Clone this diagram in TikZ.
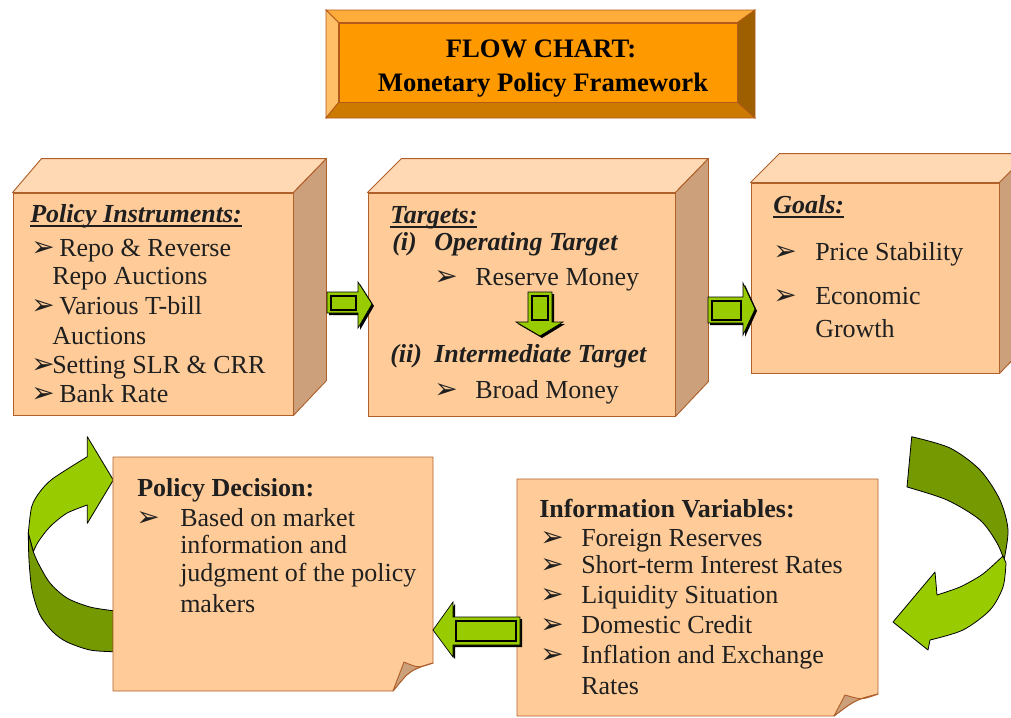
\documentclass[tikz,border=0pt]{standalone}
\usepackage{fontspec}
\setmainfont{Liberation Serif}
\newfontfamily\bulfont{DejaVu Sans}
\usetikzlibrary{fit,calc}
\definecolor{frontc}{HTML}{FFCC99}
\definecolor{topc}{HTML}{FFD9B3}
\definecolor{sidec}{HTML}{CCA07A}
\definecolor{edgec}{HTML}{B0602A}
\definecolor{agreen}{HTML}{99CC00}
\definecolor{dgreen}{HTML}{759900}
\definecolor{textc}{HTML}{1F1F1F}
\definecolor{tface}{HTML}{FF9900}
\definecolor{ttop}{HTML}{FFAD3A}
\definecolor{tleft}{HTML}{FFBF66}
\definecolor{tright}{HTML}{9E5F00}
\definecolor{tbottom}{HTML}{CC7A00}
\definecolor{tedge}{HTML}{B3591A}
\newcommand\thickul[1]{\setbox0=\hbox{#1}\leavevmode\rlap{\raisebox{-3.6pt}{\rule{\wd0}{1.7pt}}}\box0}
\newcommand\bu{{\bulfont\fontsize{21}{23}\selectfont ➢}}
\begin{document}
\begin{tikzpicture}[x=0.75pt,y=-0.75pt,
  every node/.style={inner sep=0pt},
  front/.style={draw=edgec, line width=0.7pt, fill=frontc, inner sep=0pt},
  facet/.style={draw=edgec, line width=0.7pt, line join=round},
  txt/.style={anchor=base west, font=\fontsize{19.5}{23}\selectfont, text=textc},
  bul/.style={anchor=base west, text=textc},
  ttl/.style={anchor=base, font=\bfseries\fontsize{20}{23}\selectfont, text=black},
  garrow/.style={fill=agreen, draw=black, line width=0.5pt, line join=miter},
  gshadow/.style={fill=black},
  curv/.style={draw=black, line width=0.6pt, line join=round}]
\clip (0,0) rectangle (1011,718);
\fill[white] (0,0) rectangle (1011,718);

% ---------- title box ----------
\node[fill=tface, draw=tedge, line width=0.6pt, fit={(339,23) (737,102)}] (tbox) {};
\fill[ttop, draw=tedge, line width=0.6pt] (326,10) -- (755,10) -- (tbox.north east) -- (tbox.north west) -- cycle;
\fill[tleft, draw=tedge, line width=0.6pt] (326,10) -- (tbox.north west) -- (tbox.south west) -- (326,118) -- cycle;
\fill[tright, draw=tedge, line width=0.6pt] (755,10) -- (755,118) -- (tbox.south east) -- (tbox.north east) -- cycle;
\fill[tbottom, draw=tedge, line width=0.6pt] (326,118) -- (tbox.south west) -- (tbox.south east) -- (755,118) -- cycle;
\node[ttl] (t1) at (541,57) {FLOW CHART:};
\node[ttl] (t2) at (543,91) {Monetary Policy Framework};

% ---------- 3D box 1 ----------
\node[front, fit={(13,193) (293,415)}] (b1) {};
\filldraw[facet, fill=topc] (b1.north west) -- ++(29,-34) -- ($(b1.north east)+(33,-34)$) -- (b1.north east) -- cycle;
\filldraw[facet, fill=sidec] (b1.north east) -- ++(33,-34) -- ++(0,222) -- (b1.south east) -- cycle;

% ---------- 3D box 2 ----------
\node[front, fit={(368,193) (675,416)}] (b2) {};
\filldraw[facet, fill=topc] (b2.north west) -- ++(34,-34) -- ($(b2.north east)+(33,-34)$) -- (b2.north east) -- cycle;
\filldraw[facet, fill=sidec] (b2.north east) -- ++(33,-34) -- ++(0,223) -- (b2.south east) -- cycle;

% ---------- 3D box 3 ----------
\node[front, fit={(751,183) (999,373)}] (b3) {};
\filldraw[facet, fill=topc] (b3.north west) -- ++(29,-29) -- ($(b3.north east)+(29,-29)$) -- (b3.north east) -- cycle;
\filldraw[facet, fill=sidec] (b3.north east) -- ++(29,-29) -- ++(0,190) -- (b3.south east) -- cycle;

% ---------- curved arrows ----------
\filldraw[curv, fill=agreen] (28.3,533.3) -- plot[smooth] coordinates {(28.3,533.3) (31.7,506.7) (40,491.7) (53.3,478.3) (87.3,456.7)}
  -- (87.3,436.7) -- (113.3,480) -- (87.3,523.3) -- (87.3,505)
  -- plot[smooth] coordinates {(87.3,505) (66.7,513.3) (50,526.7) (38.3,541.7) (33.3,551.7)} -- cycle;
\filldraw[curv, fill=dgreen] (28.3,533.3) -- plot[smooth] coordinates {(28.3,533.3) (29,560) (32,590) (40,615) (53,632) (67,642) (90,650) (113.3,651.7)}
  -- (113.3,610.7)
  -- plot[smooth] coordinates {(113.3,610.7) (90,607) (67,598) (50,583) (38.3,563.3) (33.3,551.7)} -- cycle;

\filldraw[curv, fill=dgreen] (911.7,436.7) -- plot[smooth] coordinates {(911.7,436.7) (950,448) (980,470) (1000,500) (1008,530) (1004,560)}
  -- plot[smooth] coordinates {(1004,560) (997,543) (980,520) (947,500) (907,487)} -- cycle;
\filldraw[curv, fill=agreen] (1003,556) -- plot[smooth] coordinates {(1003,556) (990,568) (980,576) (960,587) (937,595)}
  -- (935,572) -- (893,622) -- (928,650) -- (930,640)
  -- plot[smooth] coordinates {(930,640) (963,630) (990,610) (1003,587) (1006,563)} -- cycle;

% ---------- note boxes ----------
\coordinate (pdnw) at (113,457);
\coordinate (pdse) at (433,691);
\filldraw[facet, fill=frontc] (pdnw) -- (pdnw -| pdse) -- (433,663) .. controls (410,670) .. (393,691) -- (pdnw |- pdse) -- cycle;
\filldraw[facet, fill=sidec] (393,691) -- (404,662) .. controls (418,668) .. (433,663) .. controls (410,670) .. (393,691) -- cycle;

\coordinate (ivnw) at (517,479);
\coordinate (ivse) at (878,716);
\filldraw[facet, fill=frontc] (ivnw) -- (ivnw -| ivse) -- (878,694) .. controls (855,700) .. (834,716) -- (ivnw |- ivse) -- cycle;
\filldraw[facet, fill=sidec] (834,716) -- (845,695) .. controls (862,700) .. (878,694) .. controls (855,700) .. (834,716) -- cycle;

% ---------- straight block arrows ----------
% box1 -> box2
\fill[gshadow, shift={(2,2)}] (327,292) -- (358,292) -- (358,282) -- (372,304) -- (358,328) -- (358,313) -- (327,313) -- cycle;
\filldraw[garrow] (327,292) -- (358,292) -- (358,282) -- (372,304) -- (358,328) -- (358,313) -- (327,313) -- cycle;
\draw[black, line width=1pt] (331,296) rectangle (356,310);
% reserve -> broad (down)
\fill[gshadow, shift={(2,2)}] (528,292) -- (552,292) -- (552,322) -- (563,322) -- (540,336) -- (516,322) -- (528,322) -- cycle;
\filldraw[garrow] (528,292) -- (552,292) -- (552,322) -- (563,322) -- (540,336) -- (516,322) -- (528,322) -- cycle;
\draw[black, line width=1pt] (532,296) rectangle (548,320);
% box2 -> box3
\fill[gshadow, shift={(2,2)}] (708,297) -- (743,297) -- (743,283) -- (755,309) -- (743,335) -- (743,323) -- (708,323) -- cycle;
\filldraw[garrow] (708,297) -- (743,297) -- (743,283) -- (755,309) -- (743,335) -- (743,323) -- (708,323) -- cycle;
\draw[black, line width=1pt] (712,301) rectangle (741,320);
% info -> decision
\fill[gshadow, shift={(2,2)}] (520,617) -- (453,617) -- (453,602) -- (433,630) -- (453,657) -- (453,645) -- (520,645) -- cycle;
\filldraw[garrow] (520,617) -- (453,617) -- (453,602) -- (433,630) -- (453,657) -- (453,645) -- (520,645) -- cycle;
\draw[black, line width=1pt] (456,621) rectangle (516,641);

% ---------- texts box 1 ----------
\node[txt] (pih) at (30,222) {\thickul{\textbf{\textit{Policy Instruments:}}}};
\node[bul] (pb1) at (31,256) {\bu};
\node[txt] (pt1) at (59,256) {Repo \& Reverse};
\node[txt] (pt2) at (52,284) {Repo Auctions};
\node[bul] (pb2) at (31,314) {\bu};
\node[txt] (pt3) at (59,314) {Various T-bill};
\node[txt] (pt4) at (52,344) {Auctions};
\node[bul] (pb3) at (31,373) {\bu};
\node[txt] (pt5) at (52,373) {Setting SLR \& CRR};
\node[bul] (pb4) at (31,402) {\bu};
\node[txt] (pt6) at (59,402) {Bank Rate};

% ---------- texts box 2 ----------
\node[txt] (th) at (390,223) {\thickul{\textbf{\textit{Targets:}}}};
\node[txt] (ti) at (392,250) {\textbf{\textit{(i)}}};
\node[txt] (tot) at (434,250) {\textbf{\textit{Operating Target}}};
\node[bul] (tb1) at (434,285) {\bu};
\node[txt] (trm) at (475,285) {Reserve Money};
\node[txt] (tii) at (390,362) {\textbf{\textit{(ii)}}};
\node[txt] (tit) at (434,362) {\textbf{\textit{Intermediate Target}}};
\node[bul] (tb2) at (434,398) {\bu};
\node[txt] (tbm) at (475,398) {Broad Money};

% ---------- texts box 3 ----------
\node[txt] (gh) at (773,213) {\thickul{\textbf{\textit{Goals:}}}};
\node[bul] (gb1) at (773,260) {\bu};
\node[txt] (g1) at (815,260) {Price Stability};
\node[bul] (gb2) at (773,304) {\bu};
\node[txt] (g2) at (815,304) {Economic};
\node[txt] (g3) at (815,337) {Growth};

% ---------- policy decision ----------
\node[txt] (pdh) at (137,496) {\textbf{Policy Decision:}};
\node[bul] (pdb) at (136,526) {\bu};
\node[txt] (pd1) at (180,526) {Based on market};
\node[txt] (pd2) at (180,553) {information and};
\node[txt] (pd3) at (180,581) {judgment of the policy};
\node[txt] (pd4) at (180,612) {makers};

% ---------- information variables ----------
\node[txt] (ivh) at (539,517) {\textbf{Information Variables:}};
\node[bul] (ib1) at (540,546) {\bu};
\node[txt] (iv1) at (581,546) {Foreign Reserves};
\node[bul] (ib2) at (540,573) {\bu};
\node[txt] (iv2) at (581,573) {Short-term Interest Rates};
\node[bul] (ib3) at (540,603) {\bu};
\node[txt] (iv3) at (581,603) {Liquidity Situation};
\node[bul] (ib4) at (540,633) {\bu};
\node[txt] (iv4) at (581,633) {Domestic Credit};
\node[bul] (ib5) at (540,663) {\bu};
\node[txt] (iv5) at (581,663) {Inflation and Exchange};
\node[txt] (iv6) at (581,694) {Rates};
\end{tikzpicture}
\end{document}
